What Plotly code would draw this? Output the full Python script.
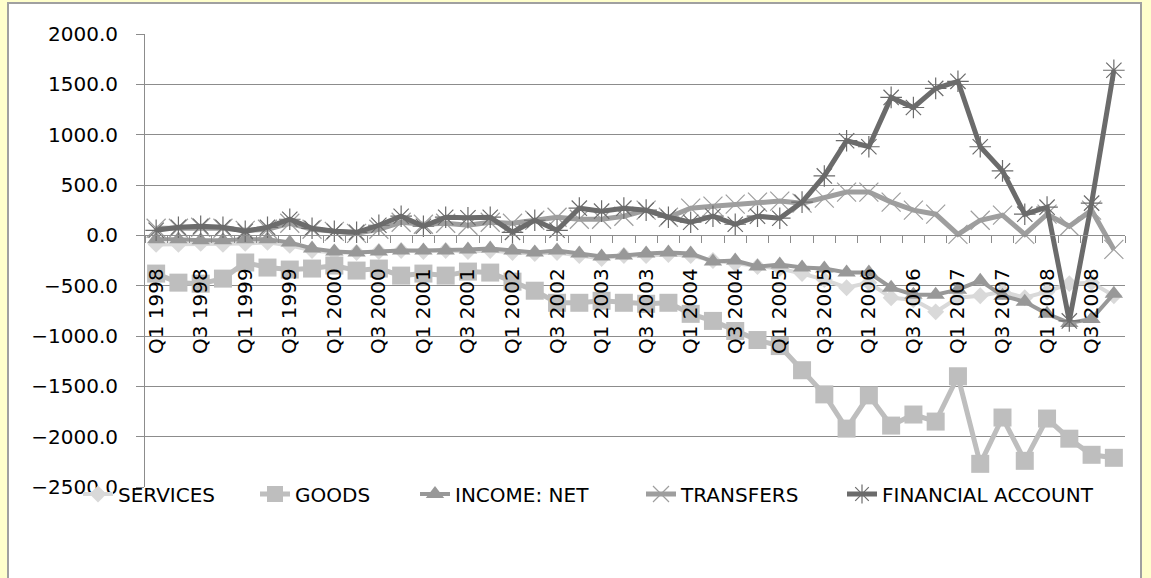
import plotly.graph_objects as go

quarters = [
    "Q1 1998", "Q2 1998", "Q3 1998", "Q4 1998",
    "Q1 1999", "Q2 1999", "Q3 1999", "Q4 1999",
    "Q1 2000", "Q2 2000", "Q3 2000", "Q4 2000",
    "Q1 2001", "Q2 2001", "Q3 2001", "Q4 2001",
    "Q1 2002", "Q2 2002", "Q3 2002", "Q4 2002",
    "Q1 2003", "Q2 2003", "Q3 2003", "Q4 2003",
    "Q1 2004", "Q2 2004", "Q3 2004", "Q4 2004",
    "Q1 2005", "Q2 2005", "Q3 2005", "Q4 2005",
    "Q1 2006", "Q2 2006", "Q3 2006", "Q4 2006",
    "Q1 2007", "Q2 2007", "Q3 2007", "Q4 2007",
    "Q1 2008", "Q2 2008", "Q3 2008", "Q4 2008",
]
# only every second quarter is labelled on the category axis
tick_labels = [q if i % 2 == 0 else "" for i, q in enumerate(quarters)]

services = [-90, -90, -80, -90, -80, -70, -100, -150, -170, -170, -160, -150,
            -160, -150, -160, -150, -170, -180, -170, -200, -230, -200, -200, -190,
            -200, -250, -280, -310, -330, -380, -440, -520, -470, -620, -640, -760,
            -620, -600, -560, -620, -560, -480, -470, -600]
goods = [-380, -470, -480, -430, -270, -320, -340, -330, -300, -350, -330, -400,
         -380, -400, -360, -370, -460, -550, -670, -670, -650, -670, -680, -670,
         -780, -850, -950, -1040, -1100, -1340, -1580, -1920, -1590, -1890, -1780, -1850,
         -1400, -2270, -1810, -2240, -1820, -2020, -2180, -2210]
income_net = [-40, -40, -50, -50, -40, -40, -70, -130, -160, -170, -160, -150,
              -150, -150, -140, -130, -150, -170, -150, -180, -210, -200, -180, -170,
              -180, -260, -250, -310, -290, -320, -330, -370, -370, -520, -590, -590,
              -540, -450, -600, -660, -780, -870, -830, -580]
transfers = [70, 70, 80, 70, 50, 60, 120, 60, 40, 20, 60, 130,
             110, 120, 100, 130, 120, 150, 180, 160, 160, 190, 250, 180,
             270, 290, 310, 330, 340, 320, 370, 430, 430, 330, 250, 210,
             10, 150, 200, 10, 210, 90, 250, -140]
financial_account = [50, 80, 90, 80, 40, 80, 160, 70, 40, 30, 100, 190,
                     90, 180, 175, 180, 30, 150, 50, 270, 240, 270, 250, 180,
                     130, 190, 110, 190, 170, 330, 590, 940, 880, 1370, 1270, 1460,
                     1530, 880, 640, 210, 280, -850, 320, 1640]

y_ticks = [2000, 1500, 1000, 500, 0, -500, -1000, -1500, -2000, -2500]

FONT = "DejaVu Sans"

# pixel geometry helpers (plot area 145..1125 x, 34..487 y)
L, R, T, B = 145, 1125, 34, 487
def px(x):
    return (x - L) / (R - L)
def py(y):
    return (B - y) / (B - T)

series = [
    ("SERVICES", services, "#D9D9D9", "diamond", 13, 4, None),
    ("GOODS", goods, "#BEBEBE", "square", 18, 5, None),
    ("INCOME: NET", income_net, "#989898", "triangle-up", 16, 4, None),
    ("TRANSFERS", transfers, "#9E9E9E", "x-thin-open", 19, 5, "#AFAFAF"),
    ("FINANCIAL ACCOUNT", financial_account, "#6B6B6B", "asterisk-open", 18, 5, "#6B6B6B"),
]
legend_text_x = [120, 297, 457, 683, 884]

fig = go.Figure()
for k, (name, vals, color, sym, size, lw, mline) in enumerate(series):
    marker = dict(symbol=sym, size=size, color=color)
    if mline is not None:
        marker["line"] = dict(color=mline, width=1.2)
    fig.add_trace(go.Scatter(
        x=quarters, y=vals, name=name, mode="lines+markers",
        line=dict(color=color, width=lw), marker=marker,
        legend="legend" if k == 0 else f"legend{k+1}",
    ))

legends = {}
for k, tx in enumerate(legend_text_x):
    key = "legend" if k == 0 else f"legend{k+1}"
    legends[key] = dict(
        x=px(tx - 42), xanchor="left", y=py(494), yanchor="middle",
        orientation="h", bgcolor="rgba(0,0,0,0)",
        font=dict(family=FONT, size=20, color="#000000"),
    )

fig.update_layout(
    width=1151, height=578,
    margin=dict(l=L, r=1151 - R, t=T, b=578 - B),
    paper_bgcolor="#FFFFCC",
    plot_bgcolor="rgba(0,0,0,0)",
    font=dict(family=FONT, size=20, color="#000000"),
    showlegend=True,
    **legends,
    shapes=[dict(type="rect", xref="paper", yref="paper",
                 x0=px(8), x1=px(1141), y0=py(620), y1=py(3),
                 fillcolor="#FFFFFF", line=dict(color="#A0A0A0", width=2),
                 layer="below")],
)

fig.update_yaxes(
    range=[-2500, 2000], tickvals=y_ticks, tickformat=".1f",
    showgrid=True, gridcolor="#8C8C8C", gridwidth=1,
    showline=True, linecolor="#8C8C8C", linewidth=1,
    ticks="outside", ticklen=8, tickcolor="#8C8C8C",
    ticklabelstandoff=14, zeroline=False,
    tickfont=dict(family=FONT, size=20, color="#000000"),
)
fig.update_xaxes(
    type="category", categoryorder="array", categoryarray=quarters,
    range=[-0.5, len(quarters) - 0.5],
    tickmode="array", tickvals=quarters, ticktext=tick_labels,
    tickangle=-90, tickson="boundaries",
    anchor="free", position=2500 / 4500,
    showline=True, linecolor="#8C8C8C", linewidth=1,
    ticks="outside", ticklen=7, tickcolor="#8C8C8C",
    showgrid=False, zeroline=False,
    ticklabelstandoff=24,
    tickfont=dict(family=FONT, size=20, color="#000000"),
)

fig.write_html("out.html")
